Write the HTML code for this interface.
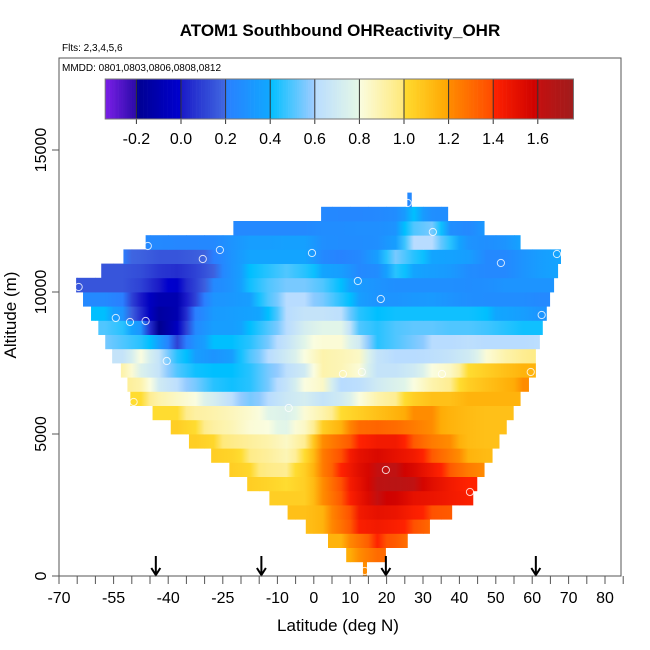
<!DOCTYPE html>
<html><head><meta charset="utf-8">
<style>
html,body{margin:0;padding:0;background:#fff;}
svg{display:block;font-family:"Liberation Sans",sans-serif;}
</style></head>
<body>
<svg id="chart" width="650" height="650" viewBox="0 0 650 650">
<defs id="defs"></defs>
<text x="340" y="36" text-anchor="middle" font-size="17" font-weight="bold">ATOM1 Southbound OHReactivity_OHR</text>
<text x="62" y="51" font-size="10">Flts: 2,3,4,5,6</text>
<g id="cells"></g>
<g id="circles"></g>
<g id="arrows"></g>
<rect x="59" y="58" width="562" height="518" fill="none" stroke="#555" stroke-width="1"/>
<text x="62" y="71" font-size="10">MMDD: 0801,0803,0806,0808,0812</text>
<g id="cbar"></g>
<g id="xaxis"></g>
<g id="yaxis"></g>
<text x="338" y="631" text-anchor="middle" font-size="17">Latitude (deg N)</text>
<text x="0" y="0" transform="translate(16,315) rotate(-90)" text-anchor="middle" font-size="17">Altitude (m)</text>
</svg>
<script>
// ---- data ----
const altStep = 500;
const rowLo = [13.5,8.9,3.9,-2.2,-7.2,-12.2,-18.3,-23.2,-28.2,-34.3,-39.3,-44.3,-50.4,-51.2,-53,-55.4,-57.3,-59.2,-61.2,-63.4,-65.3,-58.4,-52.3,-46.2,-22.1,2,25.7];
const rowHi = [14.5,19.7,25.7,31.8,37.9,43.7,44.8,46.8,49,50.9,52.9,54.8,56.7,59,60.9,60.9,62,62.8,63.9,64.8,65.9,67,67.8,56.7,46.8,36.8,26.8];
const rowVals = [
[1.2],
[1.15,1.2,1.3],
[1.15,1.15,1.28,1.4,1.35,1.25],
[1.1,1.15,1.28,1.42,1.45,1.42,1.38,1.3],
[1.1,1.1,1.15,1.3,1.45,1.5,1.48,1.42,1.38,1.35],
[1.05,1.05,1.05,1.2,1.35,1.48,1.6,1.58,1.5,1.48,1.45,1.42],
[1.05,1.03,1.0,1.05,1.2,1.38,1.5,1.63,1.65,1.62,1.52,1.45,1.4],
[1.05,1.02,0.97,0.95,1.05,1.25,1.4,1.52,1.6,1.62,1.55,1.45,1.35,1.25,1.2],
[1.05,1.03,0.97,0.93,0.88,1.0,1.25,1.38,1.5,1.55,1.5,1.45,1.35,1.25,1.15,1.12],
[1.05,1.02,0.97,0.93,0.9,0.85,0.95,1.2,1.3,1.4,1.45,1.45,1.35,1.25,1.2,1.12,1.1,1.1],
[1.05,1.0,0.92,0.88,0.82,0.8,0.78,0.85,1.05,1.15,1.3,1.32,1.3,1.25,1.2,1.15,1.12,1.1,1.1],
[1.0,1.0,0.92,0.9,0.87,0.83,0.78,0.75,0.82,0.9,1.0,1.05,1.1,1.15,1.2,1.2,1.15,1.12,1.1,1.1],
[1.0,1.0,0.9,0.85,0.8,0.72,0.62,0.55,0.6,0.68,0.72,0.65,0.7,0.8,0.9,0.95,1.05,1.1,1.1,1.15,1.15,1.15,1.15],
[0.95,0.9,0.7,0.62,0.55,0.45,0.42,0.45,0.55,0.65,0.8,0.85,0.6,0.62,0.7,0.75,0.8,0.9,0.95,1.05,1.1,1.15,1.2],
[0.9,0.75,0.65,0.5,0.42,0.4,0.4,0.45,0.55,0.62,0.7,0.9,0.88,0.82,0.65,0.65,0.7,0.8,0.85,1.0,1.05,1.1,1.15,1.15],
[0.65,0.65,0.8,0.65,0.45,0.35,0.3,0.35,0.5,0.6,0.7,0.8,0.9,0.88,0.85,0.65,0.6,0.6,0.62,0.65,0.7,0.82,0.9,0.95,0.98],
[0.55,0.5,0.45,0.35,0.1,0.3,0.4,0.4,0.45,0.55,0.65,0.78,0.82,0.82,0.7,0.45,0.5,0.55,0.6,0.6,0.62,0.6,0.6,0.6,0.62],
[0.5,0.45,0.3,-0.2,-0.05,0.25,0.35,0.35,0.4,0.5,0.6,0.72,0.78,0.78,0.5,0.45,0.5,0.52,0.52,0.5,0.5,0.48,0.45,0.42,0.42],
[0.4,0.4,0.3,0.05,-0.15,-0.1,0.2,0.33,0.35,0.37,0.4,0.6,0.65,0.65,0.62,0.45,0.4,0.42,0.42,0.42,0.42,0.42,0.4,0.38,0.35,0.3],
[0.25,0.25,0.2,0.0,-0.1,-0.1,0.1,0.3,0.32,0.35,0.5,0.6,0.6,0.55,0.45,0.35,0.3,0.3,0.32,0.33,0.3,0.28,0.27,0.27,0.27,0.25],
[0.15,0.15,0.15,0.15,0.1,0.0,-0.02,0.1,0.25,0.3,0.42,0.5,0.55,0.55,0.5,0.4,0.33,0.3,0.28,0.28,0.28,0.28,0.27,0.28,0.3,0.3,0.3,0.3],
[0.15,0.15,0.13,0.07,0.05,0.1,0.18,0.3,0.4,0.45,0.5,0.45,0.38,0.35,0.25,0.27,0.45,0.38,0.35,0.33,0.27,0.25,0.25,0.3,0.35,0.38],
[0.2,0.18,0.15,0.15,0.17,0.2,0.3,0.38,0.38,0.38,0.38,0.25,0.22,0.25,0.35,0.55,0.45,0.38,0.37,0.35,0.25,0.25,0.3,0.35,0.38],
[0.25,0.25,0.24,0.24,0.25,0.3,0.35,0.35,0.36,0.36,0.28,0.27,0.27,0.28,0.35,0.6,0.6,0.45,0.3,0.28,0.3,0.38],
[0.25,0.25,0.25,0.25,0.25,0.27,0.27,0.28,0.28,0.3,0.5,0.55,0.28,0.25,0.33],
[0.25,0.24,0.24,0.25,0.27,0.4,0.28,0.27],
[0.25]
];
const obsLat = [-64.6,-45.6,-30.5,-25.8,-0.5,12.1,18.4,32.7,51.4,66.8,62.6,-54.4,-50.5,-46.2,-40.4,-49.5,-6.9,8.0,13.2,35.2,59.6,19.8,42.9,14.0,25.8];
const obsAlt = [10176,11620,11162,11479,11373,10387,9754,12113,11021,11338,9190,9085,8944,8979,7570,6127,5915,7113,7183,7113,7183,3732,2958,176,13134];
const arrowLat = [-43.4,-14.4,19.8,61];
const xTickVals = [-70,-65,-60,-55,-50,-45,-40,-35,-30,-25,-20,-15,-10,-5,0,5,10,15,20,25,30,35,40,45,50,55,60,65,70,75,80,85];
const xTickLabels = ["-70","-55","-40","-25","-10","0","10","20","30","40","50","60","70","80"];
const yTickVals = [0,5000,10000,15000];
const cbTicks = [-0.2,0,0.2,0.4,0.6,0.8,1.0,1.2,1.4,1.6];
const cbTickLabels = ["-0.2","0.0","0.2","0.4","0.6","0.8","1.0","1.2","1.4","1.6"];
const cbMin = -0.34, cbMax = 1.76;

// ---- scales ----
function xs(lat){ return 59 + (lat + 70) * 3.64; }
function ys(alt){ return 576 - alt * 0.0284; }
function cx(v){ return 181 + v * 223; }

const segs = [
[-0.34,-0.2,'#7b1fe8','#2a0aa8'],
[-0.2,0,'#000090','#0000d0'],
[0,0.2,'#1a1ac8','#4169e1'],
[0.2,0.4,'#2a7fff','#10a8ff'],
[0.4,0.6,'#00bfff','#a0ccff'],
[0.6,0.8,'#b8dcff','#e6f8e6'],
[0.8,1.0,'#fafde0','#ffe878'],
[1.0,1.2,'#ffdc30','#ffa500'],
[1.2,1.4,'#ff8c00','#ff4a00'],
[1.4,1.6,'#ff2200','#cc0000'],
[1.6,1.76,'#c41010','#a01c1c']];
function hx(c){return [parseInt(c.substr(1,2),16),parseInt(c.substr(3,2),16),parseInt(c.substr(5,2),16)];}
function color(v){
  v=Math.max(cbMin,Math.min(cbMax-1e-6,v));
  for(const s of segs){ if(v>=s[0]&&v<s[1]){ const t=(v-s[0])/(s[1]-s[0]); const a=hx(s[2]),b=hx(s[3]);
    return 'rgb('+a.map((q,i)=>Math.round(q+(b[i]-q)*t)).join(',')+')'; } }
  return '#a01c1c';
}
const NS='http://www.w3.org/2000/svg';
function mk(tag,attrs,parent){const e=document.createElementNS(NS,tag);for(const k in attrs)e.setAttribute(k,attrs[k]);parent.appendChild(e);return e;}

// ---- heatmap (each cell blends toward neighbours at its edges) ----
const gC=document.getElementById('cells');
const defs=document.getElementById('defs');
let gid=0;
rowVals.forEach((vals,r)=>{
  const lo=rowLo[r], hi=rowHi[r];
  const startCell=Math.floor((lo+70)/5);
  vals.forEach((v,j)=>{
    const c0=-70+(startCell+j)*5, c1=c0+5;
    const a=Math.max(c0,lo), b=Math.min(c1,hi);
    if(b<=a) return;
    const vl = j>0 ? (vals[j-1]+v)/2 : v;
    const vr = j<vals.length-1 ? (vals[j+1]+v)/2 : v;
    const id='g'+(gid++);
    const lg=mk('linearGradient',{id:id,gradientUnits:'userSpaceOnUse',x1:xs(c0),x2:xs(c1),y1:0,y2:0},defs);
    mk('stop',{offset:0,'stop-color':color(vl)},lg);
    mk('stop',{offset:0.5,'stop-color':color(v)},lg);
    mk('stop',{offset:1,'stop-color':color(vr)},lg);
    const el=mk('rect',{x:xs(a).toFixed(2),y:ys((r+1)*altStep).toFixed(2),width:(xs(b)-xs(a)+0.4).toFixed(2),height:(ys(r*altStep)-ys((r+1)*altStep)+0.4).toFixed(2),fill:'url(#'+id+')'},gC);
    
    
  });
});

// ---- observation circles ----
const gO=document.getElementById('circles');
obsLat.forEach((la,i)=>{
  const el=mk('circle',{cx:xs(la),cy:ys(obsAlt[i]),r:3.6,fill:'none',stroke:'#fff','stroke-opacity':0.8,'stroke-width':1},gO);
  
  
});

// ---- arrows ----
const gA=document.getElementById('arrows');
arrowLat.forEach(la=>{
  const x=xs(la);
  const el=mk('path',{d:`M${x},556 L${x},575 M${x-4.5},568 L${x},575 L${x+4.5},568`,stroke:'#000','stroke-width':2,fill:'none'},gA);
  
  
});

// ---- x axis ----
const gX=document.getElementById('xaxis');
xTickVals.forEach(v=>{
  const el=mk('line',{x1:xs(v),x2:xs(v),y1:576,y2:584,stroke:'#555','stroke-width':1},gX);
  
  
});
xTickLabels.forEach(l=>{
  const t=mk('text',{x:xs(+l),y:603,'text-anchor':'middle','font-size':16},gX);
  t.textContent=l;
  
  
});

// ---- y axis ----
const gY=document.getElementById('yaxis');
yTickVals.forEach(v=>{
  const el=mk('line',{x1:52,x2:59,y1:ys(v),y2:ys(v),stroke:'#555','stroke-width':1},gY);
  
  
  const t=mk('text',{x:0,y:0,transform:`translate(46,${ys(v)}) rotate(-90)`,'text-anchor':'middle','font-size':16},gY);
  t.textContent=String(v);
  
  
});

// ---- colorbar ----
const gB=document.getElementById('cbar');
const nB=210;
for(let i=0;i<nB;i++){
  const v0=cbMin+(cbMax-cbMin)*i/nB, v1=cbMin+(cbMax-cbMin)*(i+1)/nB;
  const el=mk('rect',{x:cx(v0).toFixed(2),y:79,width:(cx(v1)-cx(v0)+0.3).toFixed(2),height:40,fill:color((v0+v1)/2)},gB);
  
  
}
cbTicks.forEach((v,i)=>{
  const ln=mk('line',{x1:cx(v),x2:cx(v),y1:79,y2:124,stroke:'#333','stroke-width':1},gB);
  
  
  const t=mk('text',{x:cx(v),y:144,'text-anchor':'middle','font-size':16},gB);
  t.textContent=cbTickLabels[i];
  
  
});
const fr=mk('rect',{x:cx(cbMin),y:79,width:cx(cbMax)-cx(cbMin),height:40,fill:'none',stroke:'#777','stroke-width':1},gB);


</script>
</body></html>
